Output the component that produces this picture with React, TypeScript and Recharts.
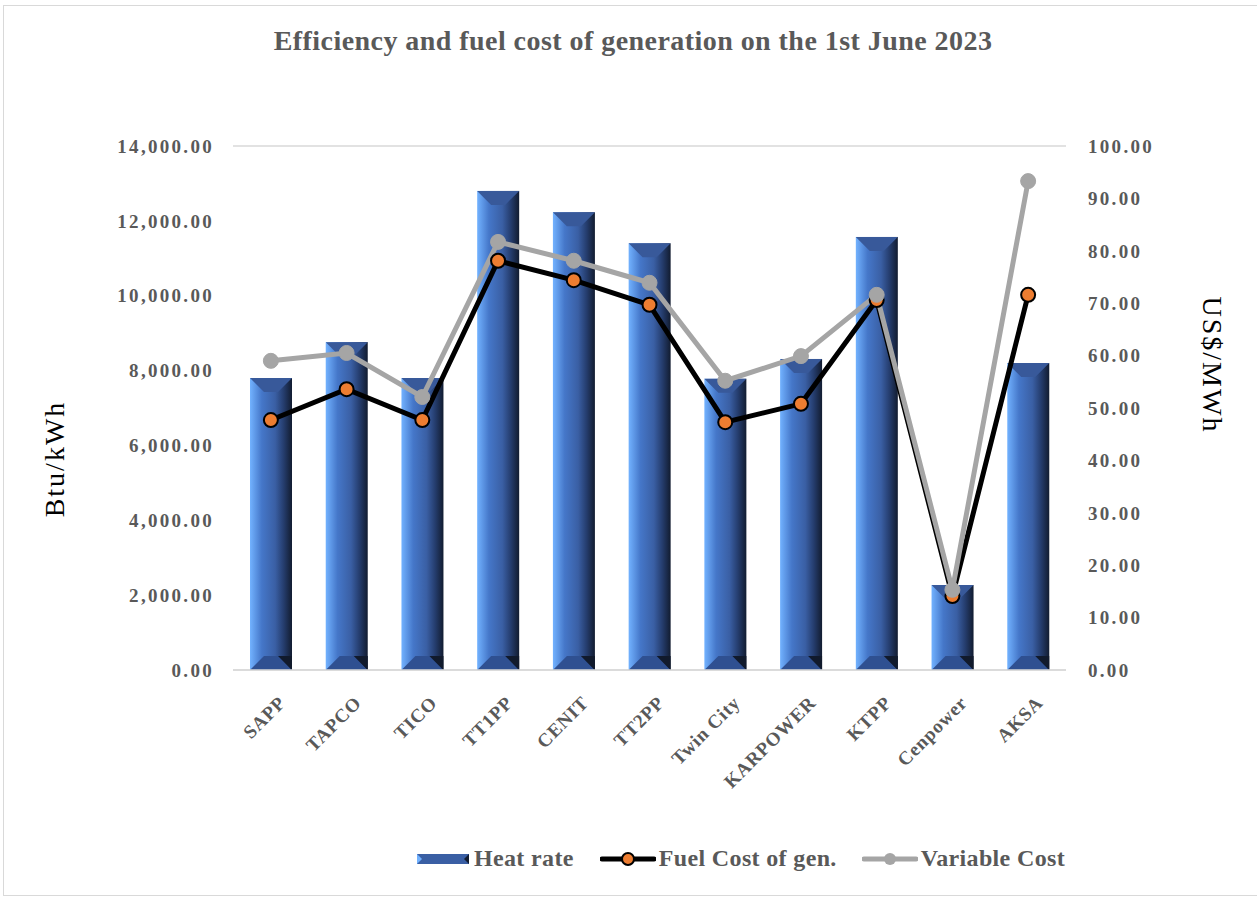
import { Bar, CartesianGrid, ComposedChart, Line, XAxis, YAxis } from "recharts";

const plantas = ["SAPP", "TAPCO", "TICO", "TT1PP", "CENIT", "TT2PP", "Twin City", "KARPOWER", "KTPP", "Cenpower", "AKSA"];
const heatRate = [7800, 8760, 7800, 12800, 12230, 11400, 7780, 8310, 11570, 2270, 8200];
const fuelCost = [47.7, 53.6, 47.7, 78.1, 74.4, 69.7, 47.3, 50.8, 70.6, 14.1, 71.6];
const variableCost = [59.0, 60.5, 52.1, 81.7, 78.1, 73.9, 55.2, 59.9, 71.6, 15.3, 93.3];
const ticksEsq = [0, 2000, 4000, 6000, 8000, 10000, 12000, 14000];
const ticksDir = [0, 10, 20, 30, 40, 50, 60, 70, 80, 90, 100];

const dados = plantas.map((name, i) => ({
  name,
  heat: heatRate[i],
  fuel: fuelCost[i],
  variable: variableCost[i],
}));

const FONTE = "'Liberation Serif', 'DejaVu Serif', serif";
const CINZA = "#595959";

function fmt(v: number) {
  return v.toLocaleString("en-US", { minimumFractionDigits: 2, maximumFractionDigits: 2 });
}

// barra com efeito chanfrado
function BarraChanfro(props: any) {
  const { x, y, width: w, height: h } = props;
  if (!h || h <= 0) return null;
  const b = Math.min(15, w / 3, h / 2);
  return (
    <g>
      <rect x={x} y={y} width={w} height={h} fill="url(#gradBarra)" />
      <polygon points={`${x},${y} ${x + w},${y} ${x + w - b},${y + b} ${x + b},${y + b}`} fill="#38599a" />
      <polygon points={`${x},${y + h} ${x + w},${y + h} ${x + w - b},${y + h - b} ${x + b},${y + h - b}`} fill="#2f5091" />
      <polygon points={`${x + w},${y + h} ${x + w - b},${y + h - b} ${x + w},${y + h - b}`} fill="#111a2c" />
    </g>
  );
}

function TickX(props: any) {
  const { x, y, payload } = props;
  const ax = x + 16;
  const ay = y + 26;
  return (
    <text
      x={ax}
      y={ay}
      textAnchor="end"
      transform={`rotate(-45, ${ax}, ${ay})`}
      fill={CINZA}
      fontFamily={FONTE}
      fontWeight="bold"
      fontSize={19}
      letterSpacing={0.8}
    >
      {payload.value}
    </text>
  );
}

const tickY = { fill: CINZA, fontFamily: FONTE, fontWeight: "bold", fontSize: 19, letterSpacing: 2.3 };

export default function App() {
  return (
    <div style={{ position: "absolute", left: 0, top: 0, width: 1257, height: 899, background: "#fff", fontFamily: FONTE }}>
      <div
        style={{
          position: "absolute",
          left: 3,
          top: 5,
          width: 1260,
          height: 889,
          border: "1px solid #d9d9d9",
        }}
      />
      <div
        style={{
          position: "absolute",
          left: 0,
          width: 1266,
          top: 25,
          textAlign: "center",
          fontSize: 28,
          letterSpacing: 0.45,
          fontWeight: "bold",
          color: CINZA,
        }}
      >
        Efficiency and fuel cost of generation on the 1st June 2023
      </div>

      <ComposedChart
        width={1257}
        height={899}
        data={dados}
        margin={{ top: 146, right: 0, bottom: 109, left: 0 }}
        barSize={42}
        style={{ position: "absolute", left: 0, top: 0 }}
      >
        <defs>
          <linearGradient id="gradBarra" x1="0" y1="0" x2="1" y2="0">
            <stop offset="0%" stopColor="#72b2ff" />
            <stop offset="28%" stopColor="#4577c9" />
            <stop offset="60%" stopColor="#3a5fa4" />
            <stop offset="80%" stopColor="#253d6e" />
            <stop offset="100%" stopColor="#121c30" />
          </linearGradient>
        </defs>
        <CartesianGrid vertical={false} stroke="#d9d9d9" strokeWidth={1.5} />
        <XAxis
          dataKey="name"
          interval={0}
          tick={<TickX />}
          tickLine={false}
          axisLine={{ stroke: "#d9d9d9", strokeWidth: 1.5 }}
          height={120}
        />
        <YAxis
          yAxisId="esq"
          domain={[0, 14000]}
          ticks={ticksEsq}
          tickFormatter={fmt}
          width={233}
          tickLine={false}
          axisLine={false}
          tick={tickY}
          tickMargin={13}
        />
        <YAxis
          yAxisId="dir"
          orientation="right"
          domain={[0, 100]}
          ticks={ticksDir}
          tickFormatter={fmt}
          width={191}
          tickLine={false}
          axisLine={false}
          tick={{ ...tickY, textAnchor: "start" }}
          tickMargin={16}
        />
        <Bar yAxisId="esq" dataKey="heat" name="Heat rate" shape={<BarraChanfro />} isAnimationActive={false} />
        <Line
          yAxisId="dir"
          dataKey="fuel"
          name="Fuel Cost of gen."
          stroke="#000"
          strokeWidth={5}
          dot={{ r: 7, fill: "#ed7d31", stroke: "#000", strokeWidth: 2 }}
          isAnimationActive={false}
        />
        <Line
          yAxisId="dir"
          dataKey="variable"
          name="Variable Cost"
          stroke="#a5a5a5"
          strokeWidth={5}
          dot={{ r: 7.5, fill: "#a5a5a5", stroke: "#a5a5a5", strokeWidth: 1 }}
          isAnimationActive={false}
        />
      </ComposedChart>

      <div
        style={{
          position: "absolute",
          left: 55,
          top: 459,
          transform: "translate(-50%, -50%) rotate(-90deg)",
          fontSize: 28,
          letterSpacing: 2,
          color: "#000",
          whiteSpace: "nowrap",
        }}
      >
        Btu/kWh
      </div>
      <div
        style={{
          position: "absolute",
          left: 1212,
          top: 365,
          transform: "translate(-50%, -50%) rotate(90deg)",
          fontSize: 28,
          letterSpacing: 2,
          color: "#000",
          whiteSpace: "nowrap",
        }}
      >
        US$/MWh
      </div>

      {/* legenda */}
      <div
        style={{
          position: "absolute",
          left: 417,
          top: 845,
          display: "flex",
          alignItems: "center",
          fontSize: 24,
          letterSpacing: 0.35,
          fontWeight: "bold",
          color: CINZA,
          whiteSpace: "nowrap",
        }}
      >
        <svg width={52} height={14} style={{ marginRight: 5 }}>
          <rect x={0} y={2} width={52} height={10} fill="#3a5fa4" />
          <polygon points="0,2 5,7 0,12" fill="#72b2ff" />
          <polygon points="52,2 47,7 52,12" fill="#121c30" />
        </svg>
        <span style={{ marginRight: 26 }}>Heat rate</span>
        <svg width={56} height={16} style={{ marginRight: 3 }}>
          <line x1={2} y1={8} x2={54} y2={8} stroke="#000" strokeWidth={5} strokeLinecap="round" />
          <circle cx={28} cy={8} r={6} fill="#ed7d31" stroke="#000" strokeWidth={2} />
        </svg>
        <span style={{ marginRight: 25 }}>Fuel Cost of gen.</span>
        <svg width={56} height={16} style={{ marginRight: 3 }}>
          <line x1={2} y1={8} x2={54} y2={8} stroke="#a5a5a5" strokeWidth={5} strokeLinecap="round" />
          <circle cx={28} cy={8} r={6} fill="#a5a5a5" />
        </svg>
        <span>Variable Cost</span>
      </div>
    </div>
  );
}
